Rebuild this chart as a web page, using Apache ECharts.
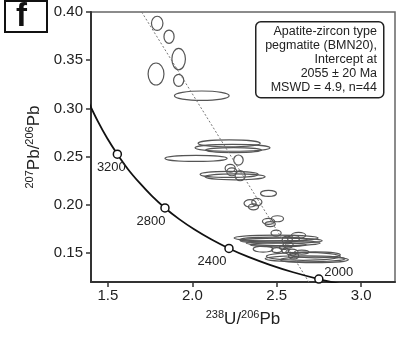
<!DOCTYPE html>
<html>
<head>
<meta charset="utf-8">
<script src="https://cdn.jsdelivr.net/npm/echarts@6/dist/echarts.min.js"></script>
<style>
  html, body { margin: 0; padding: 0; background: #fff; }
  #chart { width: 397px; height: 338px; }
</style>
</head>
<body>
<div id="chart"></div>
<script>
// Tera-Wasserburg concordia: 238U/206Pb vs 207Pb/206Pb
const xTicks = [1.5, 2.0, 2.5, 3.0];
const yTicks = [0.15, 0.20, 0.25, 0.30, 0.35, 0.40];

// concordia curve (age in Ma along the curve)
const curveX = [1.387, 1.440, 1.496, 1.556, 1.619, 1.688, 1.760, 1.838, 1.922, 2.013, 2.111, 2.217, 2.332, 2.459, 2.597, 2.749, 2.917];
const curveY = [0.3058, 0.2868, 0.2690, 0.2525, 0.2370, 0.2227, 0.2093, 0.1968, 0.1852, 0.1744, 0.1643, 0.1548, 0.1460, 0.1378, 0.1301, 0.1230, 0.1163];

// age markers on the concordia
const ageLabels = ['3200', '2800', '2400', '2000'];
const ageX = [1.556, 1.838, 2.217, 2.749];
const ageY = [0.2525, 0.1968, 0.1548, 0.1230];

// regression (discordia) line
const discordiaX = [1.70, 2.69];
const discordiaY = [0.40, 0.12];

// analyses: centre and ellipse half-axes
const ellX  = [1.792, 1.862, 1.919, 1.785, 1.919, 2.056, 2.218, 2.238, 2.244, 2.022, 2.273, 2.224, 2.283, 2.234, 2.218, 2.253,
               2.451, 2.342, 2.382, 2.362, 2.451, 2.504, 2.461, 2.496, 2.629, 2.496, 2.526, 2.538, 2.508, 2.562, 2.419, 2.540,
               2.590, 2.648, 2.657, 2.668, 2.728, 2.722, 2.500, 2.567, 2.599, 2.480, 2.550, 2.600];
const ellY  = [0.3883, 0.3744, 0.3512, 0.3357, 0.3291, 0.3132, 0.2638, 0.2592, 0.2568, 0.2482, 0.2465, 0.2379, 0.2302, 0.2343, 0.2316, 0.2291,
               0.2119, 0.2016, 0.2029, 0.1980, 0.1829, 0.1856, 0.1801, 0.1707, 0.1684, 0.1656, 0.1628, 0.1604, 0.1586, 0.1635, 0.1541, 0.1559,
               0.1510, 0.1510, 0.1466, 0.1441, 0.1482, 0.1431, 0.1531, 0.1583, 0.1652, 0.1640, 0.1525, 0.1470];
const ellRx = [0.034, 0.030, 0.040, 0.047, 0.030, 0.162, 0.184, 0.222, 0.166, 0.184, 0.028, 0.030, 0.030, 0.030, 0.172, 0.178,
               0.047, 0.036, 0.030, 0.030, 0.036, 0.036, 0.030, 0.030, 0.042, 0.249, 0.243, 0.219, 0.166, 0.030, 0.059, 0.024,
               0.036, 0.042, 0.219, 0.237, 0.148, 0.202, 0.030, 0.030, 0.036, 0.200, 0.020, 0.030];
const ellRy = [0.0073, 0.0069, 0.0111, 0.0114, 0.0062, 0.0049, 0.0036, 0.0036, 0.0026, 0.0031, 0.0052, 0.0041, 0.0052, 0.0041, 0.0031, 0.0031,
               0.0031, 0.0038, 0.0038, 0.0031, 0.0031, 0.0031, 0.0026, 0.0031, 0.0031, 0.0031, 0.0026, 0.0026, 0.0021, 0.0041, 0.0031, 0.0021,
               0.0031, 0.0021, 0.0041, 0.0031, 0.0031, 0.0031, 0.0026, 0.0031, 0.0031, 0.0026, 0.0025, 0.0030];

const FONT = '"Liberation Sans", Arial, Helvetica, sans-serif';

// label placement around each age marker
const ageOffsets = [[-6, 13], [-14, 13], [-17, 13], [20, -7]];

const chart = echarts.init(document.getElementById('chart'), null, { renderer: 'canvas' });

const ellipseData = ellX.map((x, i) => [x, ellY[i], ellRx[i], ellRy[i]]);

chart.setOption({
  animation: false,
  backgroundColor: '#fff',
  grid: {
    left: 91, right: 2, top: 12, bottom: 56,
    show: true, borderColor: '#666', borderWidth: 1.5, backgroundColor: 'transparent'
  },
  xAxis: {
    type: 'value', min: 1.4, max: 3.2,
    splitLine: { show: false },
    axisLine: { show: true, onZero: false, lineStyle: { color: '#333', width: 2 } },
    axisTick: { show: true, length: 5, customValues: xTicks, lineStyle: { color: '#333', width: 1.5 } },
    axisLabel: {
      customValues: xTicks, margin: 6, color: '#222', fontSize: 15, fontFamily: FONT,
      formatter: v => v.toFixed(1)
    },
    name: '{s|238}{m|U/}{s|206}{m|Pb}',
    nameLocation: 'middle', nameGap: 27,
    nameTextStyle: {
      rich: {
        s: { fontSize: 11, fontFamily: FONT, color: '#222', padding: [0, 0, 9, 0] },
        m: { fontSize: 17, fontFamily: FONT, color: '#222' }
      }
    }
  },
  yAxis: {
    type: 'value', min: 0.12, max: 0.40,
    splitLine: { show: false },
    axisLine: { show: true, onZero: false, lineStyle: { color: '#333', width: 2 } },
    axisTick: { show: true, length: 5, customValues: yTicks, lineStyle: { color: '#333', width: 1.5 } },
    axisLabel: {
      customValues: yTicks, margin: 8, color: '#222', fontSize: 15, fontFamily: FONT,
      formatter: v => v.toFixed(2)
    },
    name: '{s|207}{m|Pb/}{s|206}{m|Pb}',
    nameLocation: 'middle', nameGap: 46,
    nameTextStyle: {
      rich: {
        s: { fontSize: 11, fontFamily: FONT, color: '#222', padding: [0, 0, 9, 0] },
        m: { fontSize: 17, fontFamily: FONT, color: '#222' }
      }
    }
  },
  graphic: [
    // panel letter
    {
      type: 'rect', left: 4, top: 0,
      shape: { width: 42, height: 31 },
      style: { fill: '#fff', stroke: '#111', lineWidth: 2 }
    },
    {
      type: 'text', left: 16, top: 0,
      style: { text: 'f', font: 'bold 33px ' + FONT, fill: '#111' }
    },
    // annotation box
    {
      type: 'rect', left: 255, top: 21, z: 10,
      shape: { width: 128, height: 76, r: 5 },
      style: { fill: '#fff', stroke: '#222', lineWidth: 1.5 }
    },
    {
      type: 'text', x: 377, y: 25, z: 11,
      style: {
        text: 'Apatite-zircon type\npegmatite (BMN20),\nIntercept at\n2055 ± 20 Ma\nMSWD = 4.9, n=44',
        font: '12.5px ' + FONT, fill: '#222',
        textAlign: 'right', align: 'right', verticalAlign: 'top', lineHeight: 13.8
      }
    }
  ],
  series: [
    {
      type: 'custom',
      clip: true,
      encode: { x: 0, y: 1 },
      data: ellipseData,
      renderItem: (params, api) => {
        const c = api.coord([api.value(0), api.value(1)]);
        const s = api.size([api.value(2), api.value(3)]);
        return {
          type: 'ellipse',
          shape: { cx: c[0], cy: c[1], rx: s[0], ry: s[1] },
          style: { fill: 'none', stroke: '#555', lineWidth: 1.2 }
        };
      },
      z: 2
    },
    {
      type: 'line',
      data: discordiaX.map((x, i) => [x, discordiaY[i]]),
      symbol: 'none',
      lineStyle: { color: '#777', width: 1, type: [2, 2] },
      z: 3
    },
    {
      type: 'line',
      data: curveX.map((x, i) => [x, curveY[i]]),
      smooth: 0.3,
      symbol: 'none',
      clip: true,
      lineStyle: { color: '#111', width: 1.8 },
      z: 4
    },
    {
      type: 'scatter',
      symbol: 'circle', symbolSize: 8,
      itemStyle: { color: '#fff', opacity: 1, borderColor: '#111', borderWidth: 1.5 },
      data: ageX.map((x, i) => ({
        value: [x, ageY[i]],
        label: {
          show: true, position: 'inside', offset: ageOffsets[i],
          formatter: ageLabels[i], color: '#222', fontSize: 13, fontFamily: FONT
        }
      })),
      z: 5
    }
  ]
});
</script>
</body>
</html>
